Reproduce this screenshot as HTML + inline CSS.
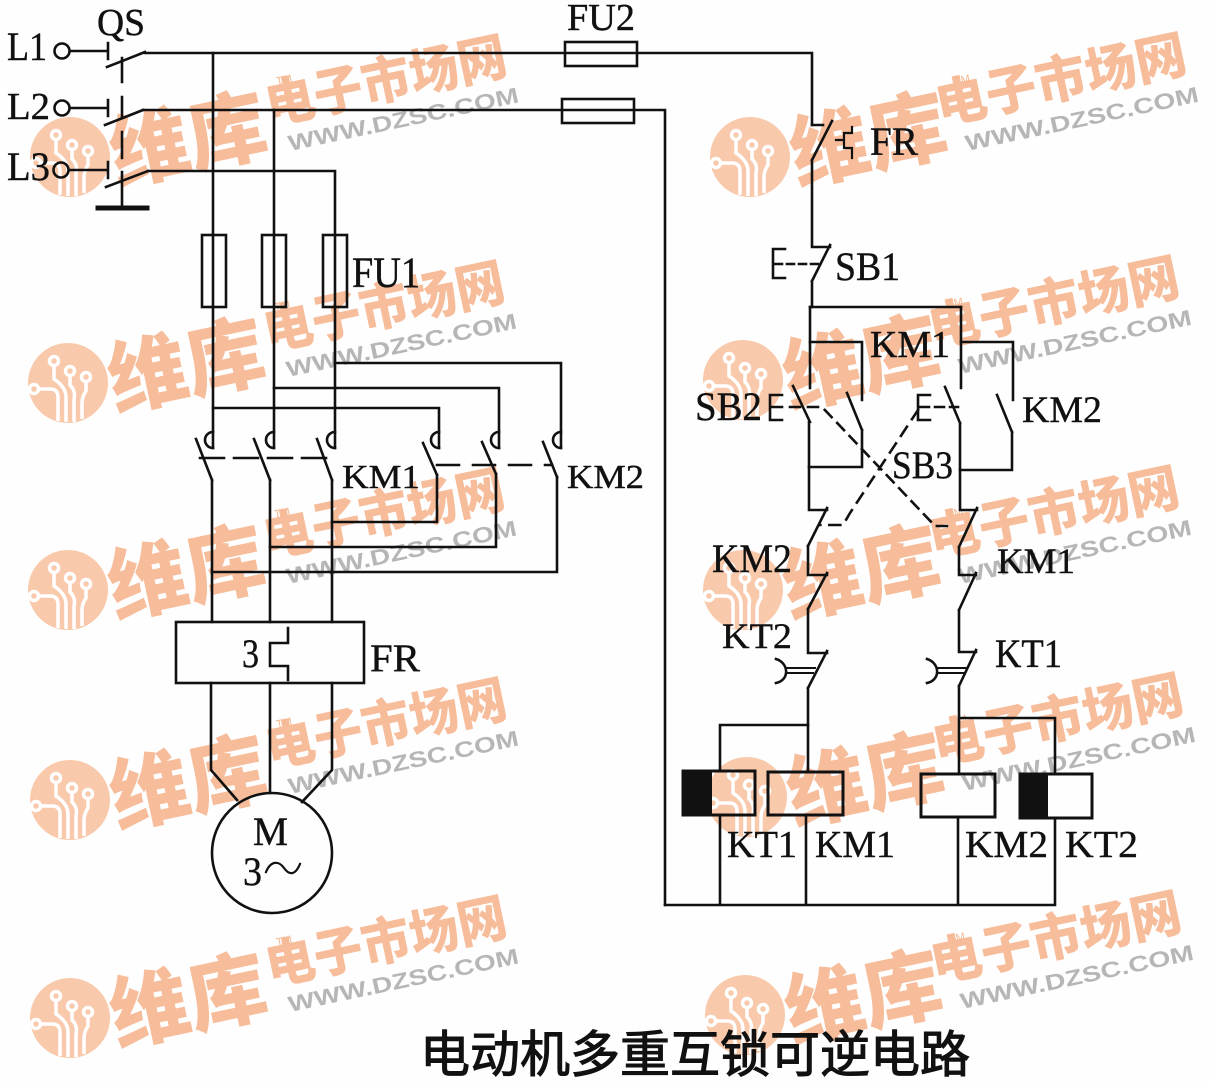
<!DOCTYPE html>
<html><head><meta charset="utf-8">
<style>
html,body{margin:0;padding:0;background:#fff;}
svg{display:block;}
</style></head>
<body>
<svg width="1214" height="1082" viewBox="0 0 1214 1082" xmlns="http://www.w3.org/2000/svg">
<rect width="1214" height="1082" fill="#fefefe"/>

<!-- ===== Watermarks ===== -->
<g transform="translate(0,0)">
 <g transform="translate(70,157)">
 <circle r="40" fill="#f9c9ab"/>
 <g stroke="#fff" stroke-width="3.5" fill="none"><path d="M-30,6 H-18 Q-10,6 -10,14 V38"/><path d="M-14,-18 V-4 Q-2,4 -2,14 V39"/><path d="M2,-8 V2 Q8,8 6,16 V39"/><path d="M18,-2 V8 Q14,14 14,20 V36"/><circle cx="-34" cy="6" r="4.5"/><circle cx="-14" cy="-22" r="4.5"/><circle cx="2" cy="-12" r="4.5"/><circle cx="18" cy="-6" r="4.5"/></g>
 <text x="47" y="27" transform="rotate(-12 47 27)" font-family="Liberation Sans, Noto Sans CJK SC, sans-serif" font-weight="900" font-size="80" fill="#f7bd9b" textLength="158" lengthAdjust="spacingAndGlyphs">维库</text>
 <text x="200" y="-33" transform="rotate(-12 200 -33)" font-family="Liberation Sans, Noto Sans CJK SC, sans-serif" font-weight="900" font-size="52" fill="#f7bd9b" textLength="245" lengthAdjust="spacingAndGlyphs">电子市场网</text>
 <text x="220" y="-6" transform="rotate(-12 220 -6)" font-family="Liberation Sans, sans-serif" font-weight="bold" font-size="22" fill="#b6b6b6" textLength="235" lengthAdjust="spacingAndGlyphs">WWW.DZSC.COM</text>
 <text x="207" y="-72" transform="rotate(-12 207 -72)" font-family="Liberation Sans, sans-serif" font-size="11" fill="#f3b890">TM</text>
 </g>
</g>
<g transform="translate(-2,226)">
 <g transform="translate(70,157)">
 <circle r="40" fill="#f9c9ab"/>
 <g stroke="#fff" stroke-width="3.5" fill="none"><path d="M-30,6 H-18 Q-10,6 -10,14 V38"/><path d="M-14,-18 V-4 Q-2,4 -2,14 V39"/><path d="M2,-8 V2 Q8,8 6,16 V39"/><path d="M18,-2 V8 Q14,14 14,20 V36"/><circle cx="-34" cy="6" r="4.5"/><circle cx="-14" cy="-22" r="4.5"/><circle cx="2" cy="-12" r="4.5"/><circle cx="18" cy="-6" r="4.5"/></g>
 <text x="47" y="27" transform="rotate(-12 47 27)" font-family="Liberation Sans, Noto Sans CJK SC, sans-serif" font-weight="900" font-size="80" fill="#f7bd9b" textLength="158" lengthAdjust="spacingAndGlyphs">维库</text>
 <text x="200" y="-33" transform="rotate(-12 200 -33)" font-family="Liberation Sans, Noto Sans CJK SC, sans-serif" font-weight="900" font-size="52" fill="#f7bd9b" textLength="245" lengthAdjust="spacingAndGlyphs">电子市场网</text>
 <text x="220" y="-6" transform="rotate(-12 220 -6)" font-family="Liberation Sans, sans-serif" font-weight="bold" font-size="22" fill="#b6b6b6" textLength="235" lengthAdjust="spacingAndGlyphs">WWW.DZSC.COM</text>
 <text x="207" y="-72" transform="rotate(-12 207 -72)" font-family="Liberation Sans, sans-serif" font-size="11" fill="#f3b890">TM</text>
 </g>
</g>
<g transform="translate(-2,433)">
 <g transform="translate(70,157)">
 <circle r="40" fill="#f9c9ab"/>
 <g stroke="#fff" stroke-width="3.5" fill="none"><path d="M-30,6 H-18 Q-10,6 -10,14 V38"/><path d="M-14,-18 V-4 Q-2,4 -2,14 V39"/><path d="M2,-8 V2 Q8,8 6,16 V39"/><path d="M18,-2 V8 Q14,14 14,20 V36"/><circle cx="-34" cy="6" r="4.5"/><circle cx="-14" cy="-22" r="4.5"/><circle cx="2" cy="-12" r="4.5"/><circle cx="18" cy="-6" r="4.5"/></g>
 <text x="47" y="27" transform="rotate(-12 47 27)" font-family="Liberation Sans, Noto Sans CJK SC, sans-serif" font-weight="900" font-size="80" fill="#f7bd9b" textLength="158" lengthAdjust="spacingAndGlyphs">维库</text>
 <text x="200" y="-33" transform="rotate(-12 200 -33)" font-family="Liberation Sans, Noto Sans CJK SC, sans-serif" font-weight="900" font-size="52" fill="#f7bd9b" textLength="245" lengthAdjust="spacingAndGlyphs">电子市场网</text>
 <text x="220" y="-6" transform="rotate(-12 220 -6)" font-family="Liberation Sans, sans-serif" font-weight="bold" font-size="22" fill="#b6b6b6" textLength="235" lengthAdjust="spacingAndGlyphs">WWW.DZSC.COM</text>
 <text x="207" y="-72" transform="rotate(-12 207 -72)" font-family="Liberation Sans, sans-serif" font-size="11" fill="#f3b890">TM</text>
 </g>
</g>
<g transform="translate(0,643)">
 <g transform="translate(70,157)">
 <circle r="40" fill="#f9c9ab"/>
 <g stroke="#fff" stroke-width="3.5" fill="none"><path d="M-30,6 H-18 Q-10,6 -10,14 V38"/><path d="M-14,-18 V-4 Q-2,4 -2,14 V39"/><path d="M2,-8 V2 Q8,8 6,16 V39"/><path d="M18,-2 V8 Q14,14 14,20 V36"/><circle cx="-34" cy="6" r="4.5"/><circle cx="-14" cy="-22" r="4.5"/><circle cx="2" cy="-12" r="4.5"/><circle cx="18" cy="-6" r="4.5"/></g>
 <text x="47" y="27" transform="rotate(-12 47 27)" font-family="Liberation Sans, Noto Sans CJK SC, sans-serif" font-weight="900" font-size="80" fill="#f7bd9b" textLength="158" lengthAdjust="spacingAndGlyphs">维库</text>
 <text x="200" y="-33" transform="rotate(-12 200 -33)" font-family="Liberation Sans, Noto Sans CJK SC, sans-serif" font-weight="900" font-size="52" fill="#f7bd9b" textLength="245" lengthAdjust="spacingAndGlyphs">电子市场网</text>
 <text x="220" y="-6" transform="rotate(-12 220 -6)" font-family="Liberation Sans, sans-serif" font-weight="bold" font-size="22" fill="#b6b6b6" textLength="235" lengthAdjust="spacingAndGlyphs">WWW.DZSC.COM</text>
 <text x="207" y="-72" transform="rotate(-12 207 -72)" font-family="Liberation Sans, sans-serif" font-size="11" fill="#f3b890">TM</text>
 </g>
</g>
<g transform="translate(0,861)">
 <g transform="translate(70,157)">
 <circle r="40" fill="#f9c9ab"/>
 <g stroke="#fff" stroke-width="3.5" fill="none"><path d="M-30,6 H-18 Q-10,6 -10,14 V38"/><path d="M-14,-18 V-4 Q-2,4 -2,14 V39"/><path d="M2,-8 V2 Q8,8 6,16 V39"/><path d="M18,-2 V8 Q14,14 14,20 V36"/><circle cx="-34" cy="6" r="4.5"/><circle cx="-14" cy="-22" r="4.5"/><circle cx="2" cy="-12" r="4.5"/><circle cx="18" cy="-6" r="4.5"/></g>
 <text x="47" y="27" transform="rotate(-12 47 27)" font-family="Liberation Sans, Noto Sans CJK SC, sans-serif" font-weight="900" font-size="80" fill="#f7bd9b" textLength="158" lengthAdjust="spacingAndGlyphs">维库</text>
 <text x="200" y="-33" transform="rotate(-12 200 -33)" font-family="Liberation Sans, Noto Sans CJK SC, sans-serif" font-weight="900" font-size="52" fill="#f7bd9b" textLength="245" lengthAdjust="spacingAndGlyphs">电子市场网</text>
 <text x="220" y="-6" transform="rotate(-12 220 -6)" font-family="Liberation Sans, sans-serif" font-weight="bold" font-size="22" fill="#b6b6b6" textLength="235" lengthAdjust="spacingAndGlyphs">WWW.DZSC.COM</text>
 <text x="207" y="-72" transform="rotate(-12 207 -72)" font-family="Liberation Sans, sans-serif" font-size="11" fill="#f3b890">TM</text>
 </g>
</g>
<!-- right column -->
<g transform="translate(680,0)">
 <g transform="translate(70,157)">
 <circle r="40" fill="#f9c9ab"/>
 <g stroke="#fff" stroke-width="3.5" fill="none"><path d="M-30,6 H-18 Q-10,6 -10,14 V38"/><path d="M-14,-18 V-4 Q-2,4 -2,14 V39"/><path d="M2,-8 V2 Q8,8 6,16 V39"/><path d="M18,-2 V8 Q14,14 14,20 V36"/><circle cx="-34" cy="6" r="4.5"/><circle cx="-14" cy="-22" r="4.5"/><circle cx="2" cy="-12" r="4.5"/><circle cx="18" cy="-6" r="4.5"/></g>
 <text x="47" y="27" transform="rotate(-12 47 27)" font-family="Liberation Sans, Noto Sans CJK SC, sans-serif" font-weight="900" font-size="80" fill="#f7bd9b" textLength="158" lengthAdjust="spacingAndGlyphs">维库</text>
 <text x="190" y="-33" transform="rotate(-12 190 -33)" font-family="Liberation Sans, Noto Sans CJK SC, sans-serif" font-weight="900" font-size="52" fill="#f7bd9b" textLength="255" lengthAdjust="spacingAndGlyphs">电子市场网</text>
 <text x="217" y="-6" transform="rotate(-12 217 -6)" font-family="Liberation Sans, sans-serif" font-weight="bold" font-size="22" fill="#b6b6b6" textLength="238" lengthAdjust="spacingAndGlyphs">WWW.DZSC.COM</text>
 <text x="205" y="-72" transform="rotate(-12 205 -72)" font-family="Liberation Sans, sans-serif" font-size="11" fill="#f3b890">TM</text>
 </g>
</g>
<g transform="translate(673,223)">
 <g transform="translate(70,157)">
 <circle r="40" fill="#f9c9ab"/>
 <g stroke="#fff" stroke-width="3.5" fill="none"><path d="M-30,6 H-18 Q-10,6 -10,14 V38"/><path d="M-14,-18 V-4 Q-2,4 -2,14 V39"/><path d="M2,-8 V2 Q8,8 6,16 V39"/><path d="M18,-2 V8 Q14,14 14,20 V36"/><circle cx="-34" cy="6" r="4.5"/><circle cx="-14" cy="-22" r="4.5"/><circle cx="2" cy="-12" r="4.5"/><circle cx="18" cy="-6" r="4.5"/></g>
 <text x="47" y="27" transform="rotate(-12 47 27)" font-family="Liberation Sans, Noto Sans CJK SC, sans-serif" font-weight="900" font-size="80" fill="#f7bd9b" textLength="158" lengthAdjust="spacingAndGlyphs">维库</text>
 <text x="190" y="-33" transform="rotate(-12 190 -33)" font-family="Liberation Sans, Noto Sans CJK SC, sans-serif" font-weight="900" font-size="52" fill="#f7bd9b" textLength="255" lengthAdjust="spacingAndGlyphs">电子市场网</text>
 <text x="217" y="-6" transform="rotate(-12 217 -6)" font-family="Liberation Sans, sans-serif" font-weight="bold" font-size="22" fill="#b6b6b6" textLength="238" lengthAdjust="spacingAndGlyphs">WWW.DZSC.COM</text>
 <text x="205" y="-72" transform="rotate(-12 205 -72)" font-family="Liberation Sans, sans-serif" font-size="11" fill="#f3b890">TM</text>
 </g>
</g>
<g transform="translate(673,433)">
 <g transform="translate(70,157)">
 <circle r="40" fill="#f9c9ab"/>
 <g stroke="#fff" stroke-width="3.5" fill="none"><path d="M-30,6 H-18 Q-10,6 -10,14 V38"/><path d="M-14,-18 V-4 Q-2,4 -2,14 V39"/><path d="M2,-8 V2 Q8,8 6,16 V39"/><path d="M18,-2 V8 Q14,14 14,20 V36"/><circle cx="-34" cy="6" r="4.5"/><circle cx="-14" cy="-22" r="4.5"/><circle cx="2" cy="-12" r="4.5"/><circle cx="18" cy="-6" r="4.5"/></g>
 <text x="47" y="27" transform="rotate(-12 47 27)" font-family="Liberation Sans, Noto Sans CJK SC, sans-serif" font-weight="900" font-size="80" fill="#f7bd9b" textLength="158" lengthAdjust="spacingAndGlyphs">维库</text>
 <text x="190" y="-33" transform="rotate(-12 190 -33)" font-family="Liberation Sans, Noto Sans CJK SC, sans-serif" font-weight="900" font-size="52" fill="#f7bd9b" textLength="255" lengthAdjust="spacingAndGlyphs">电子市场网</text>
 <text x="217" y="-6" transform="rotate(-12 217 -6)" font-family="Liberation Sans, sans-serif" font-weight="bold" font-size="22" fill="#b6b6b6" textLength="238" lengthAdjust="spacingAndGlyphs">WWW.DZSC.COM</text>
 <text x="205" y="-72" transform="rotate(-12 205 -72)" font-family="Liberation Sans, sans-serif" font-size="11" fill="#f3b890">TM</text>
 </g>
</g>
<g transform="translate(677,640)">
 <g transform="translate(70,157)">
 <circle r="40" fill="#f9c9ab"/>
 <g stroke="#fff" stroke-width="3.5" fill="none"><path d="M-30,6 H-18 Q-10,6 -10,14 V38"/><path d="M-14,-18 V-4 Q-2,4 -2,14 V39"/><path d="M2,-8 V2 Q8,8 6,16 V39"/><path d="M18,-2 V8 Q14,14 14,20 V36"/><circle cx="-34" cy="6" r="4.5"/><circle cx="-14" cy="-22" r="4.5"/><circle cx="2" cy="-12" r="4.5"/><circle cx="18" cy="-6" r="4.5"/></g>
 <text x="47" y="27" transform="rotate(-12 47 27)" font-family="Liberation Sans, Noto Sans CJK SC, sans-serif" font-weight="900" font-size="80" fill="#f7bd9b" textLength="158" lengthAdjust="spacingAndGlyphs">维库</text>
 <text x="190" y="-33" transform="rotate(-12 190 -33)" font-family="Liberation Sans, Noto Sans CJK SC, sans-serif" font-weight="900" font-size="52" fill="#f7bd9b" textLength="255" lengthAdjust="spacingAndGlyphs">电子市场网</text>
 <text x="217" y="-6" transform="rotate(-12 217 -6)" font-family="Liberation Sans, sans-serif" font-weight="bold" font-size="22" fill="#b6b6b6" textLength="238" lengthAdjust="spacingAndGlyphs">WWW.DZSC.COM</text>
 <text x="205" y="-72" transform="rotate(-12 205 -72)" font-family="Liberation Sans, sans-serif" font-size="11" fill="#f3b890">TM</text>
 </g>
</g>
<g transform="translate(675,858)">
 <g transform="translate(70,157)">
 <circle r="40" fill="#f9c9ab"/>
 <g stroke="#fff" stroke-width="3.5" fill="none"><path d="M-30,6 H-18 Q-10,6 -10,14 V38"/><path d="M-14,-18 V-4 Q-2,4 -2,14 V39"/><path d="M2,-8 V2 Q8,8 6,16 V39"/><path d="M18,-2 V8 Q14,14 14,20 V36"/><circle cx="-34" cy="6" r="4.5"/><circle cx="-14" cy="-22" r="4.5"/><circle cx="2" cy="-12" r="4.5"/><circle cx="18" cy="-6" r="4.5"/></g>
 <text x="47" y="27" transform="rotate(-12 47 27)" font-family="Liberation Sans, Noto Sans CJK SC, sans-serif" font-weight="900" font-size="80" fill="#f7bd9b" textLength="158" lengthAdjust="spacingAndGlyphs">维库</text>
 <text x="190" y="-33" transform="rotate(-12 190 -33)" font-family="Liberation Sans, Noto Sans CJK SC, sans-serif" font-weight="900" font-size="52" fill="#f7bd9b" textLength="255" lengthAdjust="spacingAndGlyphs">电子市场网</text>
 <text x="217" y="-6" transform="rotate(-12 217 -6)" font-family="Liberation Sans, sans-serif" font-weight="bold" font-size="22" fill="#b6b6b6" textLength="238" lengthAdjust="spacingAndGlyphs">WWW.DZSC.COM</text>
 <text x="205" y="-72" transform="rotate(-12 205 -72)" font-family="Liberation Sans, sans-serif" font-size="11" fill="#f3b890">TM</text>
 </g>
</g>

<!-- ===== Circuit lines ===== -->
<g fill="none" stroke="#111" stroke-width="2.6" stroke-linecap="square" stroke-linejoin="miter">
 <circle cx="62" cy="51" r="7.5"/>
 <circle cx="62" cy="108" r="7.5"/>
 <circle cx="61" cy="170" r="7.5"/>
 <path d="M70,51 H108 M108,43 V59"/>
 <path d="M70,108 H108 M108,100 V116"/>
 <path d="M69,170 H108 M108,162 V178"/>
 <path d="M107,67 L145,52 M105,125 L143,110 M106,187 L148,171"/>
 <path d="M122,58 V82 M122,97 V118 M122,132 V158 M122,172 V206"/>
 <path d="M98,208 H147" stroke-width="5"/>
 <path d="M145,53 H812 V125"/>
 <path d="M143,110 H665 V905"/>
 <path d="M148,171 H335 V448"/>
 <rect x="565" y="42" width="72" height="24"/>
 <rect x="562" y="99" width="72" height="24"/>
 <path d="M213,53 V448 M274,110 V448"/>
 <rect x="202" y="235" width="24" height="72"/>
 <rect x="262" y="235" width="24" height="72"/>
 <rect x="323" y="235" width="24" height="72"/>
 <path d="M213,408 H439 V448 M274,388 H499 V448 M335,363 H561 V448"/>
 <path d="M213,432 A8,8 0 0 0 213,448 M274,432 A8,8 0 0 0 274,448 M335,432 A8,8 0 0 0 335,448 M439,432 A8,8 0 0 0 439,448 M499,432 A8,8 0 0 0 499,448 M561,432 A8,8 0 0 0 561,448"/>
 <path d="M196,439 L212,480 M254,439 L270,480 M317,439 L332,480"/>
 <path d="M212,480 V622 M270,480 V622 M332,480 V622"/>
 <path d="M200,458 H330" stroke-dasharray="24 10"/>
 <path d="M423,443 L437,475 M482,442 L496,474 M543,442 L557,477"/>
 <path d="M437,475 V522 H332 M496,474 V547 H270 M557,477 V572 H212"/>
 <path d="M437,465 H552" stroke-dasharray="22 14"/>
 <rect x="176" y="622" width="188" height="61"/>
 <path d="M288,628 V643 H270 V666 H288 V680"/>
 <path d="M211,683 V770 L237,800 M270,683 V793 M332,683 V770 L302,802"/>
 <circle cx="272" cy="853" r="60"/>
 <path d="M266,872 C271,860 279,861 284,868 C289,875 295,876 300,864" stroke-width="2.2"/>

 <!-- Control circuit -->
 <path d="M812,125 H823 M832,121 L812,160 M812,160 V247 H830"/>
 <path d="M836,140 H843 M852,127 V133 H844 V148 H852 V158" stroke-width="2.2"/>
 <path d="M830,245 L812,281 M812,281 V307"/>
 <path d="M785,249 H773 V278 H785"/>
 <path d="M775,264 H822" stroke-dasharray="7 5"/>
 <path d="M810,307 H961"/>
 <path d="M810,307 V388 M793,386 L810,422 M809,422 V510 H827 M827,508 L808,546 M808,546 V575 H827 M827,573 L808,609 M808,609 V653 H827 M827,651 L808,688 M808,688 V772"/>
 <path d="M810,342 H862 V400 M847,393 L862,430 M862,430 V467 H809"/>
 <path d="M782,395 H770 V420 H782"/>
 <path d="M772,407 H822 L935,526 H948" stroke-dasharray="10 8"/>
 <path d="M961,307 V388 M945,387 L960,423 M960,423 V510 H977 M977,508 L959,547 M959,547 V575 H976 M976,573 L959,610 M959,610 V652 H976 M976,650 L959,686 M959,686 V774"/>
 <path d="M961,342 H1013 V400 M997,395 L1012,432 M1012,432 V470 H960"/>
 <path d="M930,395 H918 V420 H930"/>
 <path d="M920,407 H958" stroke-dasharray="9 6"/>
 <path d="M918,410 L850,513 L843,525 H820" stroke-dasharray="11 9"/>
 <path d="M776,659 C789,663 790,680 776,683"/>
 <path d="M787,668 H815 M787,673 H813" stroke-width="2"/>
 <path d="M927,659 C940,663 941,680 927,683"/>
 <path d="M938,668 H967 M938,673 H965" stroke-width="2"/>
 <path d="M808,725 H720 V771"/>
 <path d="M959,718 H1055 V774"/>
 <rect x="683" y="771" width="29" height="44" fill="#111" stroke="none"/>
 <rect x="683" y="771" width="72" height="44" stroke-width="3"/>
 <rect x="768" y="772" width="75" height="43" stroke-width="3"/>
 <rect x="921" y="774" width="74" height="43" stroke-width="3"/>
 <rect x="1020" y="774" width="28" height="44" fill="#111" stroke="none"/>
 <rect x="1020" y="774" width="72" height="44" stroke-width="3"/>
 <path d="M720,815 V905 M806,815 V905 M958,817 V905 M1055,818 V905 M665,905 H1055"/>
</g>

<!-- ===== Labels ===== -->
<g font-family="Liberation Serif, serif" fill="#111" stroke="#111" stroke-width="0.4">
 <text x="97" y="35" font-size="38" textLength="48" lengthAdjust="spacingAndGlyphs">QS</text>
 <text x="7" y="60" font-size="40" textLength="40" lengthAdjust="spacingAndGlyphs">L1</text>
 <text x="7" y="119" font-size="38" textLength="43" lengthAdjust="spacingAndGlyphs">L2</text>
 <text x="7" y="180" font-size="40" textLength="43" lengthAdjust="spacingAndGlyphs">L3</text>
 <text x="567" y="30" font-size="38" textLength="68" lengthAdjust="spacingAndGlyphs">FU2</text>
 <text x="352" y="287" font-size="43" textLength="68" lengthAdjust="spacingAndGlyphs">FU1</text>
 <text x="342" y="488" font-size="34" textLength="78" lengthAdjust="spacingAndGlyphs">KM1</text>
 <text x="567" y="488" font-size="34" textLength="77" lengthAdjust="spacingAndGlyphs">KM2</text>
 <text x="370" y="671" font-size="39" textLength="50" lengthAdjust="spacingAndGlyphs">FR</text>
 <text x="242" y="667" font-size="40" textLength="17" lengthAdjust="spacingAndGlyphs">3</text>
 <text x="253" y="845" font-size="40" textLength="35" lengthAdjust="spacingAndGlyphs">M</text>
 <text x="243" y="885" font-size="40" textLength="19" lengthAdjust="spacingAndGlyphs">3</text>

 <text x="870" y="155" font-size="40" textLength="48" lengthAdjust="spacingAndGlyphs">FR</text>
 <text x="835" y="280" font-size="40" textLength="65" lengthAdjust="spacingAndGlyphs">SB1</text>
 <text x="870" y="357" font-size="38" textLength="80" lengthAdjust="spacingAndGlyphs">KM1</text>
 <text x="695" y="420" font-size="40" textLength="67" lengthAdjust="spacingAndGlyphs">SB2</text>
 <text x="1022" y="422" font-size="37" textLength="80" lengthAdjust="spacingAndGlyphs">KM2</text>
 <text x="892" y="478" font-size="39" textLength="61" lengthAdjust="spacingAndGlyphs">SB3</text>
 <text x="712" y="572" font-size="40" textLength="80" lengthAdjust="spacingAndGlyphs">KM2</text>
 <text x="997" y="573" font-size="36" textLength="78" lengthAdjust="spacingAndGlyphs">KM1</text>
 <text x="722" y="648" font-size="36" textLength="70" lengthAdjust="spacingAndGlyphs">KT2</text>
 <text x="995" y="667" font-size="40" textLength="67" lengthAdjust="spacingAndGlyphs">KT1</text>
 <text x="727" y="857" font-size="38" textLength="70" lengthAdjust="spacingAndGlyphs">KT1</text>
 <text x="815" y="857" font-size="38" textLength="80" lengthAdjust="spacingAndGlyphs">KM1</text>
 <text x="965" y="857" font-size="38" textLength="83" lengthAdjust="spacingAndGlyphs">KM2</text>
 <text x="1065" y="857" font-size="38" textLength="73" lengthAdjust="spacingAndGlyphs">KT2</text>
</g>

<text x="420" y="1072" font-family="Liberation Sans, Noto Sans CJK SC, sans-serif" font-size="50" fill="#111" stroke="#111" stroke-width="1.1" textLength="550" lengthAdjust="spacingAndGlyphs">电动机多重互锁可逆电路</text>
</svg>
</body>
</html>
